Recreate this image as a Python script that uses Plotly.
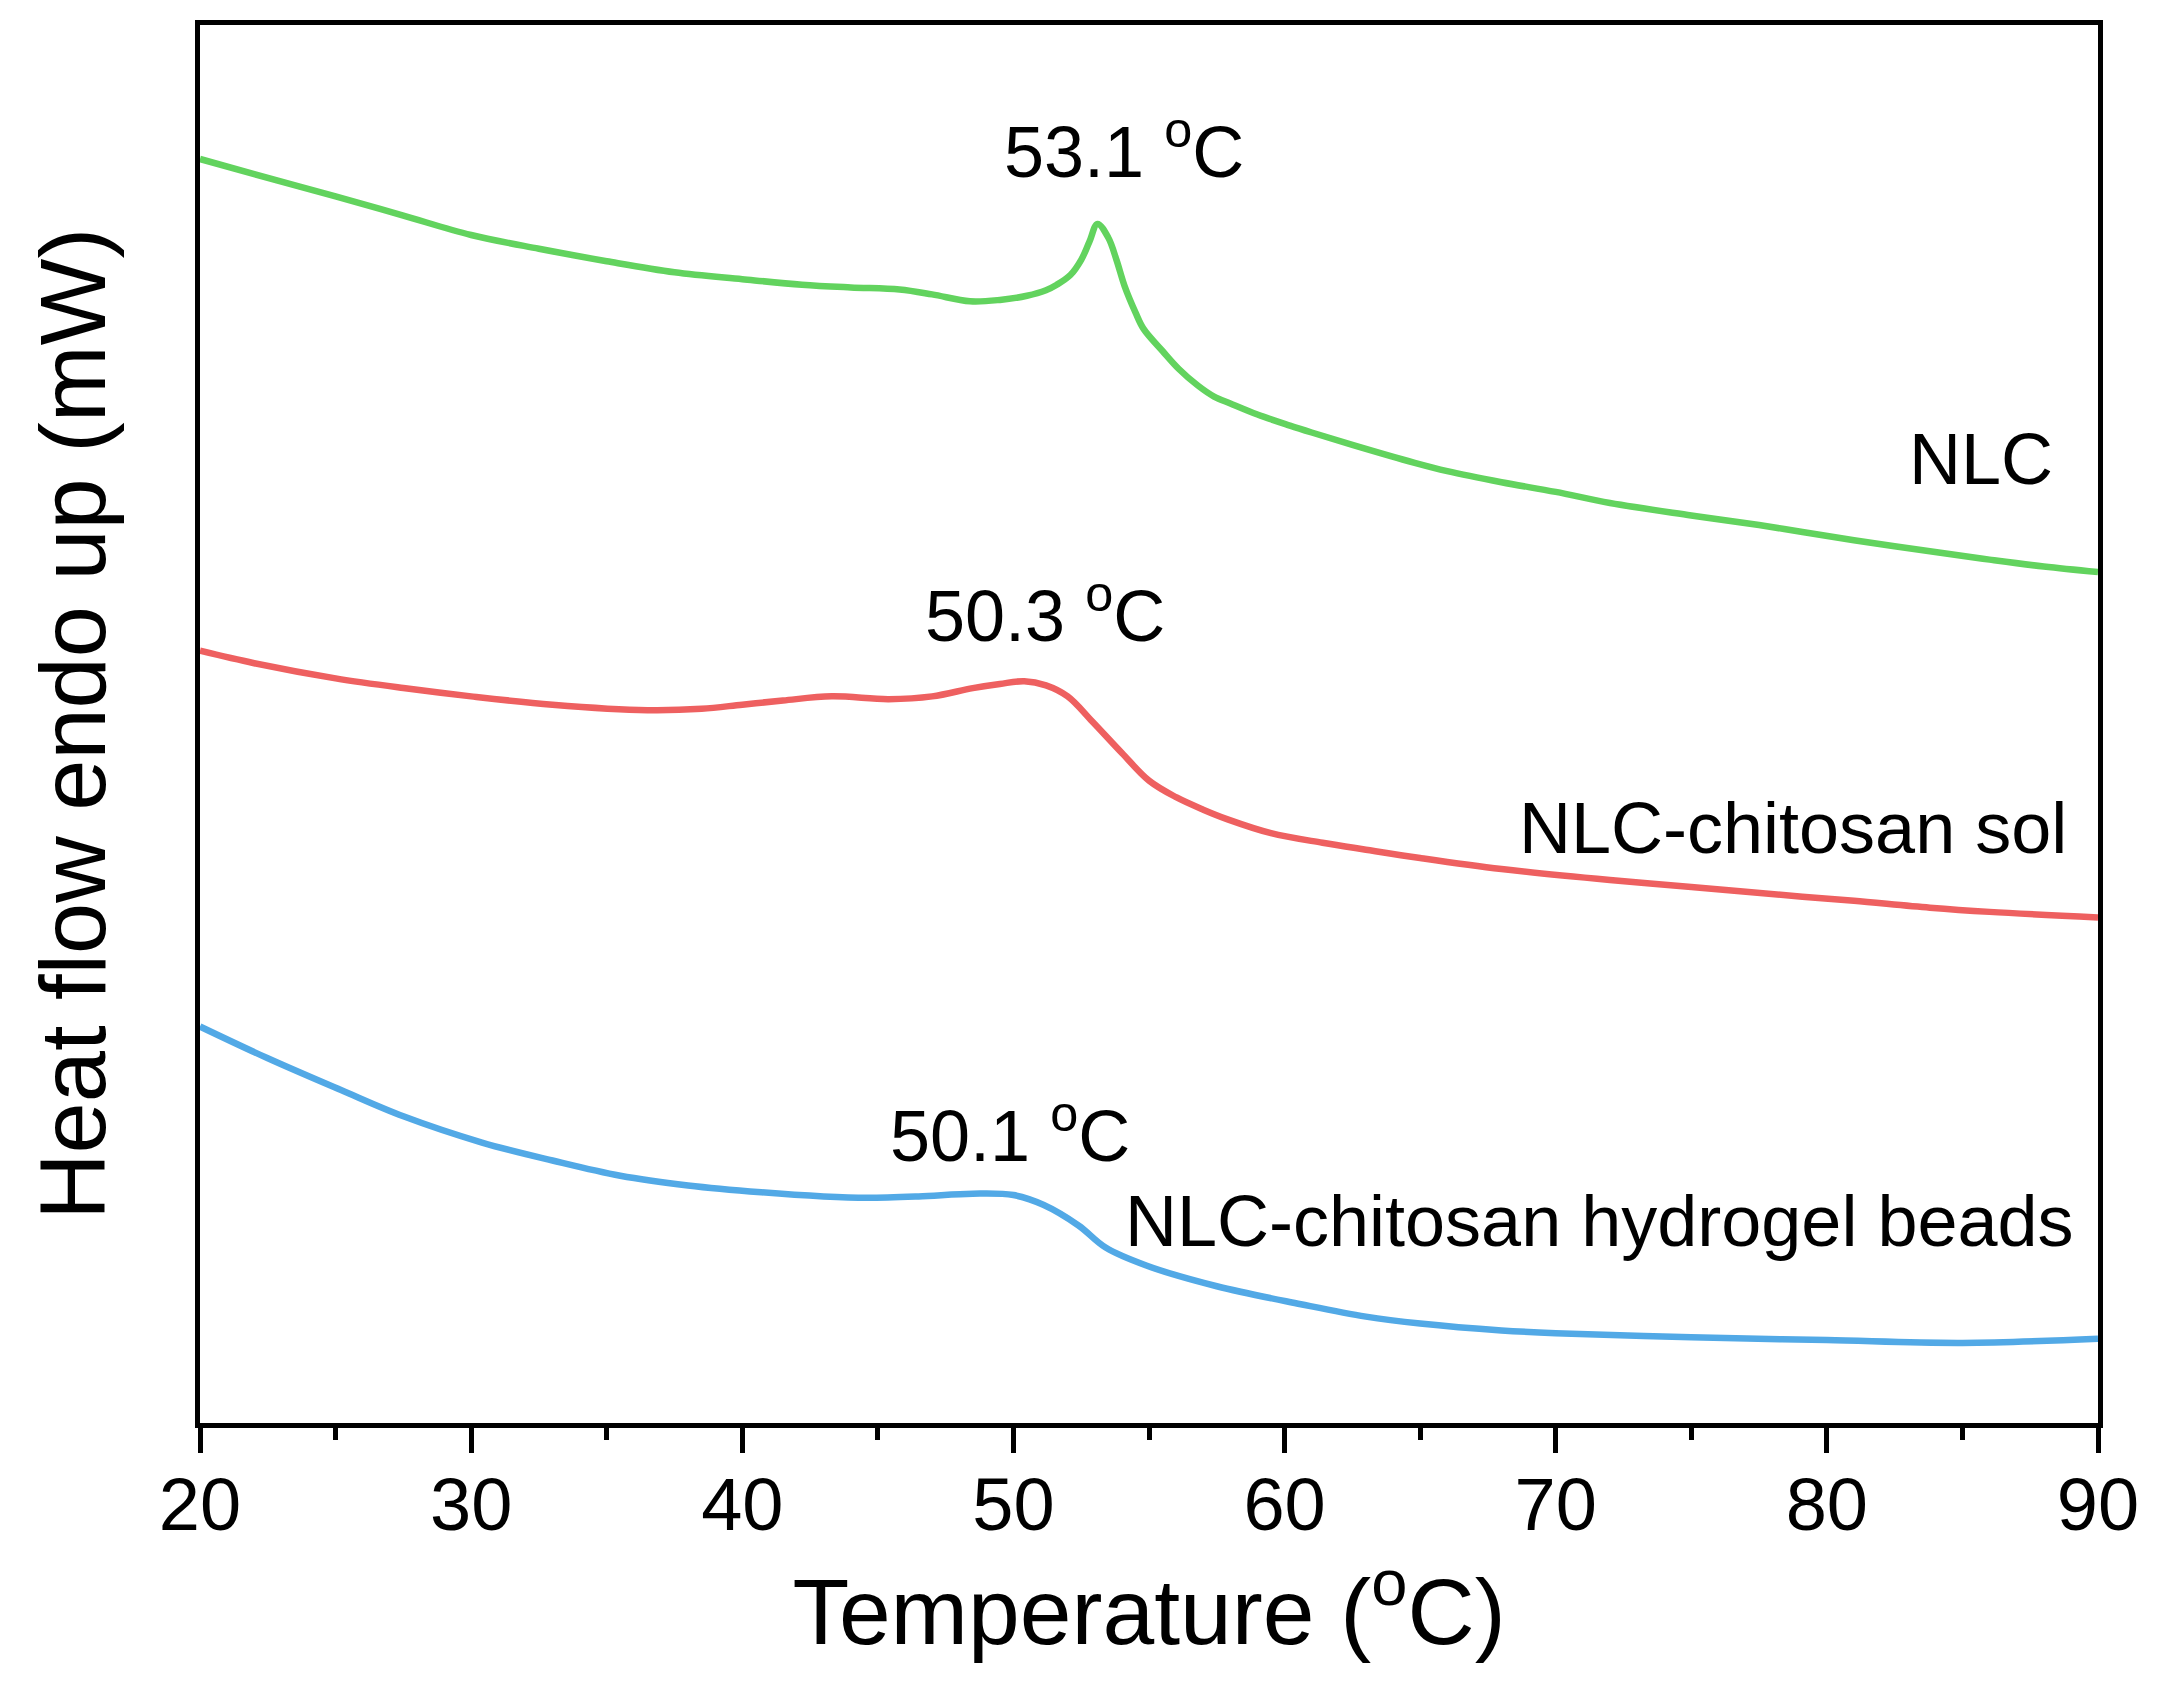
import plotly.graph_objects as go

# { data (arbitrary heat-flow units)
nlc_t = [20, 22, 25, 27.5, 30, 32.5, 35, 37.5, 40, 42.2, 44, 45.8, 47, 48.4, 49.5, 50.5,
         51.2, 51.6, 52.1, 52.5, 52.8, 53.1, 53.5, 53.8, 54.1, 54.5, 54.8, 55.5, 56.1,
         56.8, 57.4, 58, 59, 60.2, 61, 62.5, 64.8, 66, 68, 70, 72, 75, 77.5, 79.1, 81,
         83.8, 86, 88, 90]
nlc_hf = [91.5, 90.4, 88.8, 87.4, 86.0, 85.0, 84.1, 83.3, 82.8, 82.4, 82.2, 82.05, 81.7,
          81.2, 81.3, 81.6, 82.0, 82.4, 83.1, 84.2, 85.5, 86.8, 85.8, 84.2, 82.3, 80.4,
          79.2, 77.6, 76.3, 75.1, 74.3, 73.8, 73.0, 72.2, 71.7, 70.8, 69.5, 68.9, 68.1,
          67.4, 66.6, 65.7, 65.0, 64.5, 63.9, 63.1, 62.5, 62.0, 61.6]

sol_t = [20, 22, 25, 27.5, 30, 33, 36.5, 38.5, 40, 41.5, 43.3, 45.4, 47, 48.5, 49.5, 50.4,
         51.2, 52, 52.9, 54, 55, 56, 57, 57.9, 59.5, 61.4, 63, 65, 68, 72, 75, 79.1, 81,
         83.8, 86, 90]
sol_hf = [55.9, 55.0, 53.9, 53.2, 52.6, 52.0, 51.6, 51.7, 52.0, 52.3, 52.6, 52.4, 52.6,
          53.2, 53.5, 53.7, 53.4, 52.6, 50.8, 48.5, 46.5, 45.3, 44.4, 43.7, 42.7, 42.0,
          41.5, 40.9, 40.1, 39.3, 38.8, 38.1, 37.8, 37.3, 37.0, 36.6]

bead_t = [20, 22.5, 25.2, 27.5, 30.4, 33, 35.5, 38, 40.7, 43, 44.6, 46.5, 48.5, 50, 51.1,
          52.4, 53.4, 54.9, 57.5, 60.6, 63, 65, 68, 70, 75, 80, 85, 90]
bead_hf = [28.7, 26.4, 24.1, 22.2, 20.3, 19.0, 17.9, 17.2, 16.7, 16.4, 16.3, 16.4, 16.6,
           16.5, 15.8, 14.3, 12.7, 11.4, 9.9, 8.6, 7.7, 7.2, 6.7, 6.5, 6.2, 6.0, 5.8, 6.1]

x_ticks = [20, 30, 40, 50, 60, 70, 80, 90]
# }

FONT = "Liberation Sans, Arial, sans-serif"

fig = go.Figure()

fig.add_trace(go.Scatter(x=nlc_t, y=nlc_hf, mode="lines", name="NLC",
                         line=dict(color="#62d35e", width=6.5, shape="spline", smoothing=1.0)))
fig.add_trace(go.Scatter(x=sol_t, y=sol_hf, mode="lines", name="NLC-chitosan sol",
                         line=dict(color="#ee6060", width=6.5, shape="spline", smoothing=1.0)))
fig.add_trace(go.Scatter(x=bead_t, y=bead_hf, mode="lines", name="NLC-chitosan hydrogel beads",
                         line=dict(color="#52a9e6", width=6.5, shape="spline", smoothing=1.0)))

# { labels
labels = [
    (54.08, 92.4, "53.1 <sup>o</sup>C", "center"),
    (88.41, 69.8, "NLC", "right"),
    (51.16, 58.8, "50.3 <sup>o</sup>C", "center"),
    (88.93, 43.1, "NLC-chitosan sol", "right"),
    (49.87, 21.2, "50.1 <sup>o</sup>C", "center"),
    (89.19, 14.6, "NLC-chitosan hydrogel beads", "right"),
]
for lx, ly, txt, anchor in labels:
    fig.add_annotation(x=lx, y=ly, xref="x", yref="y", text=txt, showarrow=False,
                       xanchor=anchor, yanchor="middle",
                       font=dict(family=FONT, size=72, color="black"))

fig.add_annotation(x=-0.067, y=0.5, xref="paper", yref="paper",
                   text="Heat flow endo up (mW)", textangle=-90, showarrow=False,
                   xanchor="center", yanchor="middle",
                   font=dict(family=FONT, size=92, color="black"))
# }

# page body has an 8px margin, so the figure is 8px smaller and shifted
fig.update_layout(
    width=2158, height=1691,
    margin=dict(l=192, r=68, t=15, b=276),
    paper_bgcolor="white", plot_bgcolor="white",
    showlegend=False,
    font=dict(family=FONT, color="black"),
)

fig.update_xaxes(
    range=[20, 90], tickvals=x_ticks, ticktext=[str(v) for v in x_ticks],
    showgrid=False, zeroline=False,
    showline=True, linecolor="black", linewidth=5, mirror=True,
    ticks="outside", ticklen=25, tickwidth=5, tickcolor="black",
    tickfont=dict(family=FONT, size=74, color="black"),
    ticklabelstandoff=-12,
    minor=dict(dtick=5, ticks="outside", ticklen=12, tickwidth=5, tickcolor="black"),
    title=dict(text="Temperature (<sup>o</sup>C)", standoff=30,
               font=dict(family=FONT, size=93, color="black")),
)
fig.update_yaxes(
    range=[0, 101.2], showticklabels=False, ticks="",
    showgrid=False, zeroline=False,
    showline=True, linecolor="black", linewidth=5, mirror=True,
)

fig.write_html("out.html")
